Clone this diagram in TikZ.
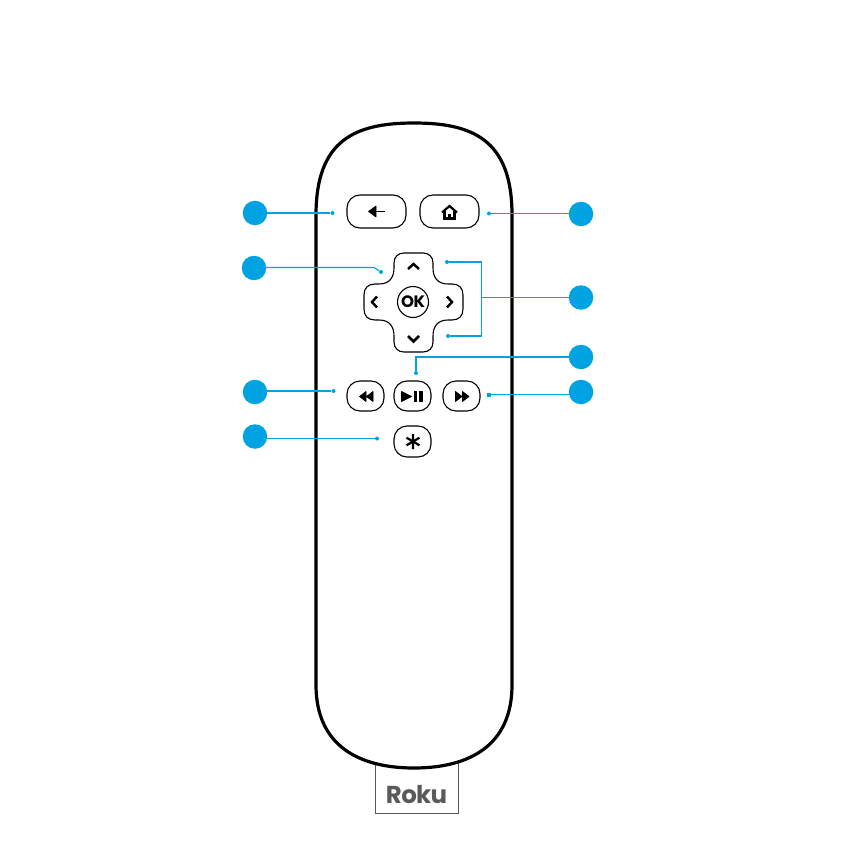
\documentclass[tikz,border=0pt]{standalone}
\usepackage{fontspec}
\setmainfont{Poppins}
\definecolor{cyanb}{HTML}{00A3E2}
\definecolor{rokug}{HTML}{58595B}
\tikzset{
 badge/.style={circle,fill=cyanb,inner sep=0pt,minimum size=24.5pt},
 pin/.style={circle,fill=cyanb,inner sep=0pt,minimum size=4pt},
 wire/.style={draw=cyanb,line width=1.05pt},
 keybtn/.style={draw=black,line width=1.1pt,rounded corners=13pt,inner sep=0pt},
 chev/.style={draw=black,line width=2.5pt,line join=miter},
 solidicon/.style={fill=black,draw=black,line width=.7pt,line join=round},
}
\begin{document}
\begin{tikzpicture}[x=1pt,y=-1pt]
\useasboundingbox (0,0) rectangle (864,864);
\fill[white] (0,0) rectangle (864,864);
% stick
\node[draw=rokug,line width=.8pt,minimum width=83pt,minimum height=50pt,inner sep=0pt] (stick) at (416.5,788) {};
\node[text=rokug,font=\fontsize{24.5}{25}\selectfont\bfseries,inner sep=0pt] (roku) at (416.5,795) {\addfontfeature{LetterSpace=-3}Roku};
% body
\draw[line width=3.2pt,fill=white] (316,215) .. controls (316,140) and (355,123) .. (414,123)
  .. controls (473,123) and (512,140) .. (512,215)
  -- (512,685) .. controls (512,745) and (470,768) .. (414,768)
  .. controls (358,768) and (316,745) .. (316,685) -- cycle;
% buttons
\node[keybtn,minimum width=59pt,minimum height=33pt] (back) at (376.5,211.5) {};
\node[keybtn,minimum width=59pt,minimum height=33pt] (home) at (449.5,211.5) {};
\node[keybtn,minimum width=37pt,minimum height=30pt] (rew) at (365.5,396) {};
\node[keybtn,minimum width=37pt,minimum height=30pt] (play) at (412.5,396) {};
\node[keybtn,minimum width=37pt,minimum height=30pt] (ff) at (461.5,396) {};
\node[keybtn,minimum width=37pt,minimum height=31pt] (star) at (412.5,441.5) {};
% d-pad
\draw[line width=1.1pt] (404,253) -- (423,253) .. controls (429,253) and (433,257) .. (433,263)
 -- (433,268) .. controls (433,278) and (438,284) .. (448,284)
 -- (452,284) .. controls (459,284) and (463,288) .. (463,295)
 -- (463,309) .. controls (463,316) and (459,320) .. (452,320)
 -- (448,320) .. controls (438,320) and (433,326) .. (433,336)
 -- (433,342) .. controls (433,348) and (429,352) .. (423,352)
 -- (404,352) .. controls (398,352) and (394,348) .. (394,342)
 -- (394,336) .. controls (394,326) and (389,320) .. (379,320)
 -- (375,320) .. controls (368,320) and (364,316) .. (364,309)
 -- (364,295) .. controls (364,288) and (368,284) .. (375,284)
 -- (379,284) .. controls (389,284) and (394,278) .. (394,268)
 -- (394,263) .. controls (394,257) and (398,253) .. (404,253) -- cycle;
\node[circle,draw=black,line width=1.1pt,minimum size=31pt,inner sep=0pt,font=\fontsize{16.5}{17}\selectfont\bfseries] (ok) at (413,302) {\addfontfeature{LetterSpace=-3}OK};
\draw[chev] (408,269) -- (413.5,264) -- (419,269);
\draw[chev] (377,296.5) -- (372,302) -- (377,307.5);
\draw[chev] (447,296.5) -- (452,302) -- (447,307.5);
\draw[chev] (408,336) -- (413.5,341.5) -- (419,336);
% icons
\fill[solidicon] (368.5,211.5) -- (376,206) -- (376,217) -- cycle;
\draw[line width=1.7pt] (375,211.5) -- (385,211.5);
\draw[line width=2.2pt,line join=miter] (442,212.5) -- (449.5,206) -- (457,212.5);
\draw[line width=2.2pt] (444.5,211) -- (444.5,218.5) -- (454.5,218.5) -- (454.5,211);
\fill[solidicon] (448.5,214) rectangle (450.5,218.5);
\fill[solidicon] (366.5,396.5) -- (373,391.5) -- (373,401.5) -- cycle (359.5,396.5) -- (366,391.5) -- (366,401.5) -- cycle;
\fill[solidicon] (401.5,391.5) -- (411.5,396.5) -- (401.5,401.5) -- cycle;
\fill[solidicon] (414,391.5) rectangle (416.5,401.5) (419,391.5) rectangle (422,401.5);
\fill[solidicon] (455.5,391.5) -- (462,396.5) -- (455.5,401.5) -- cycle (462.5,391.5) -- (469,396.5) -- (462.5,401.5) -- cycle;
\draw[line width=2.2pt] (413,434) -- (413,449) (406.5,437.7) -- (419.5,445.3) (406.5,445.3) -- (419.5,437.7);
% badges and pins
\node[badge] (l1) at (255,213) {};
\node[badge] (l2) at (254,268) {};
\node[badge] (l3) at (255,392) {};
\node[badge] (l4) at (255,436.5) {};
\node[badge] (r1) at (581,214) {};
\node[badge] (r2) at (581,297.5) {};
\node[badge] (r3) at (581,357) {};
\node[badge] (r4) at (581,392) {};
\node[pin] (p1) at (332.5,213) {};
\node[pin] (p2) at (381,272) {};
\node[pin] (p3) at (333.5,391) {};
\node[pin] (p4) at (377,438.5) {};
\node[pin] (q1) at (489,213.5) {};
\node[pin] (q2a) at (447,262) {};
\node[pin] (q2b) at (448,336) {};
\node[pin] (q3) at (416,373) {};
\node[fill=cyanb,inner sep=0pt,minimum size=4pt] (q4) at (489,394.5) {};
\coordinate (kink) at (374,267.5);
\coordinate (jt) at (481.5,297.5);
% connectors
\draw[wire] (p1) -- (p1 -| l1.center);
\draw[wire] (l2.center |- kink) -- (kink) -- (p2);
\draw[wire] (p3) -- (p3 -| l3.center);
\draw[wire] (p4) -- (p4 -| l4.center);
\draw[wire] (q1) -- (q1 -| r1.center);
\draw[wire] (q2a) -| (jt) |- (q2b);
\draw[wire] (jt) -- (r2);
\draw[wire] (q3) |- (r3);
\draw[wire] (q4) -- (q4 -| r4.center);
\end{tikzpicture}
\end{document}
